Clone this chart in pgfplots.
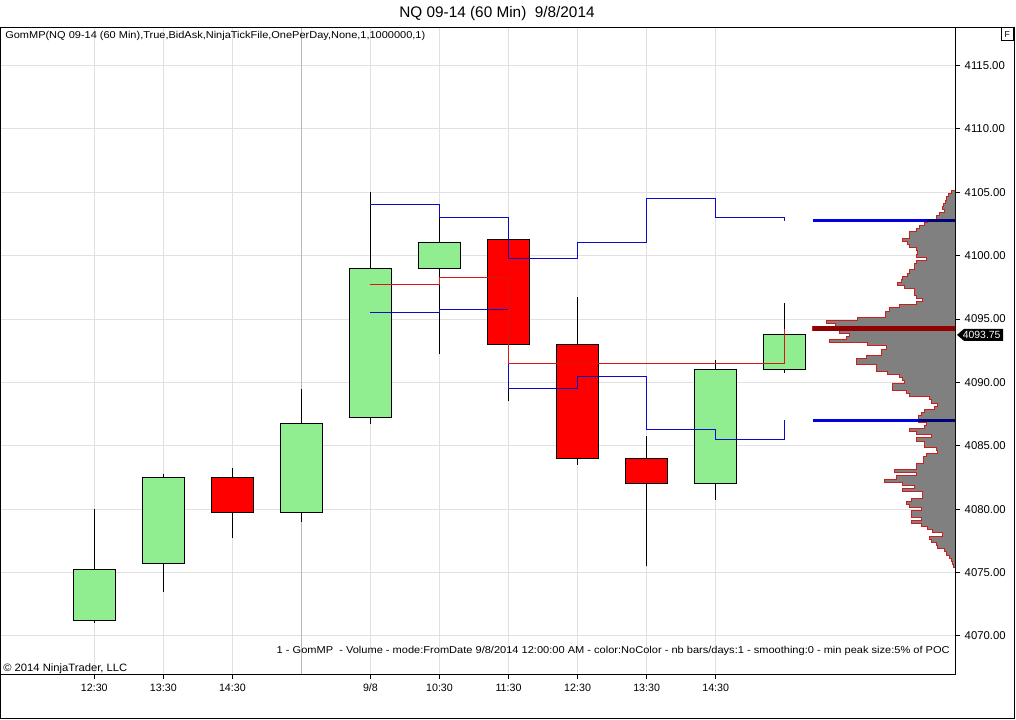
\documentclass[border=0pt]{standalone}
\usepackage{fontspec}
\setmainfont{Liberation Sans}
\usepackage{graphicx}
\usepackage{pgfplots}
\usepackage{pgfplotstable}
\pgfplotsset{compat=1.18}

\definecolor{cgreen}{RGB}{144,238,144}
\definecolor{cred}{RGB}{255,0,0}
\definecolor{stepblue}{RGB}{10,10,200}
\definecolor{stepred}{RGB}{220,20,20}
\definecolor{vablue}{RGB}{0,0,225}
\definecolor{vanavy}{RGB}{0,0,120}
\definecolor{pocred}{RGB}{145,0,0}
\definecolor{profgray}{RGB}{128,128,128}
\definecolor{profedge}{RGB}{205,30,30}
\definecolor{gridc}{RGB}{225,225,225}
\definecolor{sepc}{RGB}{185,185,185}

% volume profile: price level, bar length (px of the chart)
\pgfplotstableread{
p len
4075.5 0
4075.5 1.7
4075.75 2.4
4076 4
4076.25 5.7
4076.5 9
4076.75 10.7
4077 17.4
4077.25 19
4077.5 24
4077.75 25.7
4078 12.4
4078.25 22.4
4078.5 27.4
4078.75 34
4079 44
4079.25 34
4079.5 44
4079.75 44
4080 34
4080.25 45.7
4080.5 49
4080.75 44
4081 33
4081.25 33
4081.5 52.4
4081.75 40.7
4082 52.4
4082.25 70.7
4082.5 59
4082.75 39
4083 60.7
4083.25 39
4083.5 39
4083.75 31.7
4084 31.7
4084.25 29
4084.5 17.4
4084.75 19
4085 30.7
4085.25 30.7
4085.5 39
4085.75 24
4086 39
4086.25 45.7
4086.5 30.7
4086.75 29
4087 36.4
4087.25 36.4
4087.5 34
4087.75 30.7
4088 20.7
4088.25 17.4
4088.5 24
4088.75 25.7
4089 45.7
4089.25 49
4089.5 62.4
4089.75 62.4
4090 50.7
4090.25 53
4090.5 55.7
4090.75 67.4
4091 79
4091.25 79
4091.5 99
4091.75 99
4092 89
4092.25 74
4092.5 74
4092.75 69
4093 87.4
4093.25 125.7
4093.5 109
4093.75 105.7
4094 115.7
4094.25 142.4
4094.5 120
4094.75 129
4095 97.4
4095.25 69.7
4095.5 69.7
4095.75 65.7
4096 55.7
4096.25 39
4096.5 32.4
4096.75 39
4097 40.7
4097.25 40.7
4097.5 50.7
4097.75 58
4098 54
4098.25 52.4
4098.5 47.4
4098.75 45.7
4099 40.7
4099.25 40.7
4099.5 39
4099.75 29
4100 38.4
4100.25 37.4
4100.5 39
4100.75 45.7
4101 47.4
4101.25 52.4
4101.5 45.7
4101.75 45.7
4102 38.4
4102.25 35.7
4102.5 30.7
4102.75 28
4103 19
4103.25 15.7
4103.5 10.7
4103.75 12.4
4104 11.7
4104.25 10
4104.5 9
4104.75 6.7
4105 4
4105.25 0
}\profile

\begin{document}
\begin{tikzpicture}
\useasboundingbox (0,0) rectangle (762pt,-540pt);
\begin{axis}[
  at={(0pt,-505.5pt)}, anchor=south west,
  scale only axis, width=716.25pt, height=484.95pt,
  xmin=-1.3659, xmax=12.4667, ymin=4067, ymax=4118,
  axis line style={black,line width=0.75pt},
  xtick={0,1,2,4,5,6,7,8,9},
  xticklabels={12:30,13:30,14:30,9/8,10:30,11:30,12:30,13:30,14:30},
  extra x ticks={3}, extra x tick labels={},
  extra x tick style={grid style={sepc,line width=0.75pt}, major tick length=0pt},
  ytick={4070,4075,4080,4085,4090,4095,4100,4105,4110,4115},
  scaled y ticks=false,
  xtick pos=bottom, ytick pos=right, yticklabel pos=right,
  tick align=outside, major tick length=3.75pt,
  tick style={black,line width=0.75pt},
  grid=major, grid style={gridc,line width=0.75pt},
  /pgf/number format/assume math mode=true,
  xticklabel style={font=\fontsize{8}{9}\selectfont},
  yticklabel style={font=\fontsize{8.5}{10}\selectfont,
    /pgf/number format/fixed, /pgf/number format/fixed zerofill,
    /pgf/number format/precision=2, /pgf/number format/1000 sep={}},
  every axis plot/.append style={line width=0.75pt},
]
% wicks
\addplot[black, unbounded coords=jump] coordinates {
(0,4071)(0,4080)(0,nan)
(1,4073.5)(1,4082.75)(1,nan)
(2,4077.75)(2,4083.25)(2,nan)
(3,4079)(3,4089.5)(3,nan)
(4,4086.75)(4,4105)(4,nan)
(5,4092.25)(5,4103)(5,nan)
(6,4088.5)(6,4102)(6,nan)
(7,4083.5)(7,4096.75)(7,nan)
(8,4075.5)(8,4085.75)(8,nan)
(9,4080.75)(9,4091.75)(9,nan)
(10,4090.75)(10,4096.25)
};
% bodies
\addplot[fill=cgreen, draw=black] coordinates {(-0.304,4071.25)(0.304,4071.25)(0.304,4075.25)(-0.304,4075.25)} -- cycle;
\addplot[fill=cgreen, draw=black] coordinates {(0.696,4075.75)(1.304,4075.75)(1.304,4082.5)(0.696,4082.5)} -- cycle;
\addplot[fill=cred, draw=black] coordinates {(1.696,4079.75)(2.304,4079.75)(2.304,4082.5)(1.696,4082.5)} -- cycle;
\addplot[fill=cgreen, draw=black] coordinates {(2.696,4079.75)(3.304,4079.75)(3.304,4086.75)(2.696,4086.75)} -- cycle;
\addplot[fill=cgreen, draw=black] coordinates {(3.696,4087.25)(4.304,4087.25)(4.304,4099)(3.696,4099)} -- cycle;
\addplot[fill=cgreen, draw=black] coordinates {(4.696,4099)(5.304,4099)(5.304,4101)(4.696,4101)} -- cycle;
\addplot[fill=cred, draw=black] coordinates {(5.696,4093)(6.304,4093)(6.304,4101.25)(5.696,4101.25)} -- cycle;
\addplot[fill=cred, draw=black] coordinates {(6.696,4084)(7.304,4084)(7.304,4093)(6.696,4093)} -- cycle;
\addplot[fill=cred, draw=black] coordinates {(7.696,4082)(8.304,4082)(8.304,4084)(7.696,4084)} -- cycle;
\addplot[fill=cgreen, draw=black] coordinates {(8.696,4082)(9.304,4082)(9.304,4091)(8.696,4091)} -- cycle;
\addplot[fill=cgreen, draw=black] coordinates {(9.696,4091)(10.304,4091)(10.304,4093.75)(9.696,4093.75)} -- cycle;
% developing value area / POC
\addplot[stepblue, const plot] coordinates {(4,4104)(5,4103)(6,4099.75)(7,4101)(8,4104.5)(9,4103)(10,4102.75)};
\addplot[stepblue, const plot] coordinates {(4,4095.5)(5,4095.75)(6,4089.5)(7,4090.5)(8,4086.25)(9,4085.5)(10,4087)};
\addplot[stepred, const plot] coordinates {(4,4097.75)(5,4098.25)(6,4091.5)(7,4091.5)(8,4091.5)(9,4091.5)(10,4094.25)};
% volume profile
\addplot[fill=profgray, draw=none, const plot mark right]
  table[x expr={12.4667-\thisrow{len}/69.04}, y expr={\thisrow{p}-0.125}] {\profile} -- cycle;
\addplot[profedge, const plot mark right]
  table[x expr={12.4667-\thisrow{len}/69.04}, y expr={\thisrow{p}-0.125}] {\profile};
% value area high / low and POC
\addplot[vablue, line width=2.25pt] coordinates {(10.407,4102.75)(12.058,4102.75)};
\addplot[vanavy, line width=2.25pt] coordinates {(12.058,4102.75)(12.4667,4102.75)};
\addplot[vablue, line width=2.25pt] coordinates {(10.407,4087)(11.94,4087)};
\addplot[vanavy, line width=2.25pt] coordinates {(11.94,4087)(12.4667,4087)};
\addplot[pocred, line width=3.75pt] coordinates {(10.407,4094.25)(12.4667,4094.25)};
\draw[black,line width=0.75pt] (rel axis cs:1,0) -- (rel axis cs:1,1);
\coordinate (tag) at (axis cs:12.4667,4093.75);
\end{axis}
% price tag
\fill[black] ([xshift=1.5pt]tag) -- ++(5.25pt,4.5pt) -- ++(29.25pt,0) -- ++(0,-9pt) -- ++(-29.25pt,0) -- cycle;
\node[white, inner sep=0, font=\fontsize{7.8}{8}\selectfont] at ([xshift=20pt]tag) {4093.75};
% texts
\node[inner sep=0, font=\fontsize{11.5}{13}\selectfont] at (372.75pt,-10pt) {NQ 09-14 (60 Min)\ \ 9/8/2014};
\node[anchor=west, inner sep=0, font=\fontsize{7.5}{9}\selectfont] at (3.75pt,-26.8pt)
  {\resizebox{315pt}{\height}{GomMP(NQ 09-14 (60 Min),True,BidAsk,NinjaTickFile,OnePerDay,None,1,1000000,1)}};
\node[anchor=east, inner sep=0, font=\fontsize{7.5}{9}\selectfont] at (712.5pt,-488pt)
  {\resizebox{504.75pt}{\height}{1 - GomMP\ \ - Volume - mode:FromDate 9/8/2014 12:00:00 AM - color:NoColor - nb bars/days:1 - smoothing:0 - min peak size:5\% of POC}};
\node[anchor=west, inner sep=0, font=\fontsize{8}{9}\selectfont] at (2.25pt,-501.75pt)
  {\resizebox{93pt}{\height}{© 2014 NinjaTrader, LLC}};
% frame and F box
\draw[black,line width=0.75pt] (0.375pt,-20.55pt) rectangle (760.5pt,-538.5pt);
\draw[black,line width=0.75pt] (751pt,-21pt) rectangle (760pt,-30.75pt);
\node[inner sep=0, font=\fontsize{6.5}{7}\selectfont] at (755.5pt,-25.9pt) {F};
\end{tikzpicture}
\end{document}
